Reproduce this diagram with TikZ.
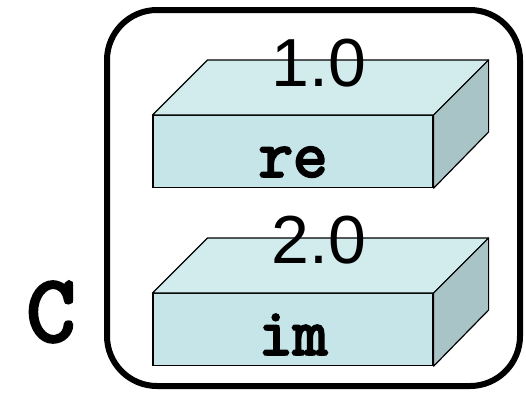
\documentclass[tikz,border=0pt]{standalone}
\usepackage{fontspec}
\setmainfont{Liberation Sans}
\newfontfamily\codefont{Latin Modern Mono}[FakeBold=3.5]
\usetikzlibrary{positioning,calc}
\definecolor{frontcol}{RGB}{197,229,232}
\definecolor{topcol}{RGB}{210,235,236}
\definecolor{sidecol}{RGB}{169,196,198}
\begin{document}
\begin{tikzpicture}[x=1pt,y=-1pt,
  field/.style={draw, line width=1.2pt, fill=frontcol, minimum width=280pt,
    inner sep=0pt, text height=61pt, text depth=11pt,
    font=\fontsize{67}{67}\selectfont\codefont},
  valtext/.style={font=\fontsize{68}{68}\selectfont, inner sep=0pt},
  topface/.style={fill=topcol, draw, line width=1.2pt, line join=round},
  sideface/.style={fill=sidecol, draw, line width=1.2pt, line join=round}]
\useasboundingbox[fill=white] (0,0) rectangle (526,394);

% struct outline
\node[draw, line width=6pt, rounded corners=50pt, minimum width=413pt,
  minimum height=376pt, inner sep=0pt] (rec) at (313.5,198) {};
\node[font=\fontsize{95}{95}\selectfont\codefont, anchor=base,
  inner sep=0pt] (c) at (51,341) {C};

% field re
\node[field, anchor=north] (re) at (293,115) {re};
\draw[topface] (re.north west) -- ++(55,-55) -- ($(re.north east)+(55,-55)$)
  -- (re.north east) -- cycle;
\draw[sideface] (re.north east) -- ++(55,-55) -- ++(0,72) -- (re.south east) -- cycle;
\node[valtext, anchor=base] (v1) at ($(re.north)+(26,-29)$) {1.0};

% field im
\node[field, anchor=north] (im) at (293,293) {im};
\draw[topface] (im.north west) -- ++(55,-55) -- ($(im.north east)+(55,-55)$)
  -- (im.north east) -- cycle;
\draw[sideface] (im.north east) -- ++(55,-55) -- ++(0,72) -- (im.south east) -- cycle;
\node[valtext, anchor=base] (v2) at ($(im.north)+(26,-30)$) {2.0};
\end{tikzpicture}
\end{document}
